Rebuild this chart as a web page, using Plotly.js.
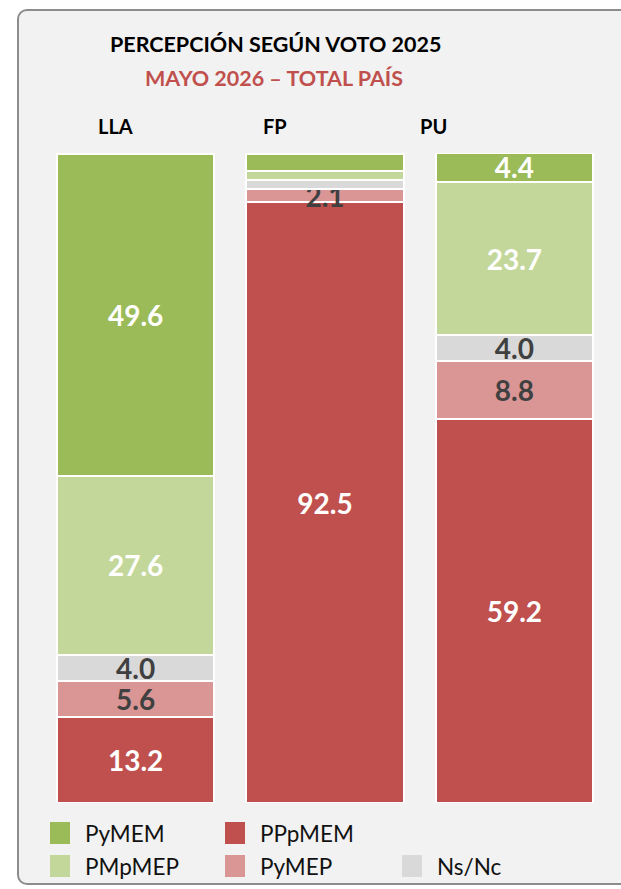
<!DOCTYPE html>
<html><head><meta charset="utf-8">
<script src="https://cdn.plot.ly/plotly-3.0.1.min.js"></script>
<style>
html,body{margin:0;padding:0;background:#ffffff;}
#frame{position:absolute;left:17px;top:9px;width:640px;height:876px;border:2px solid #8c8c8c;border-radius:10px;background:#f2f2f2;box-sizing:border-box;}
#chart{position:absolute;left:0;top:0;width:621px;height:889px;}
</style></head>
<body>
<div id="frame"></div>
<div id="chart"></div>
<script>
const categories = ['LLA', 'FP', 'PU'];
const seriesNames = ['PPpMEM', 'PyMEP', 'Ns/Nc', 'PMpMEP', 'PyMEM'];
const PPpMEM = [13.2, 92.5, 59.2];
const PyMEP  = [5.6, 2.1, 8.8];
const NsNc   = [4.0, 1.3, 4.0];
const PMpMEP = [27.6, 1.5, 23.7];
const PyMEM  = [49.6, 2.5, 4.4];
const seriesValues = [PPpMEM, PyMEP, NsNc, PMpMEP, PyMEM];
// labels that the reference leaves out (thin FP segments)
const hiddenLabels = {'FP': ['Ns/Nc', 'PMpMEP', 'PyMEM']};
const seriesColors = ['#c0504d', '#da9694', '#d9d9d9', '#c4d79b', '#9bbb59'];
const labelColors  = ['#ffffff', '#404040', '#404040', '#ffffff', '#ffffff'];
const titleText = 'PERCEPCIÓN SEGÚN VOTO 2025';
const subtitleText = 'MAYO 2026 – TOTAL PAÍS';

const W = 621, H = 889;
const M = {l: 41, r: 12, t: 153, b: 86};
const pw = W - M.l - M.r, ph = H - M.t - M.b;
const px2x = p => (p - M.l) / pw;
const px2y = p => (H - M.b - p) / ph;

const FONT = 'Lato, "Open Sans", sans-serif';

const traces = seriesNames.map((name, i) => ({
  type: 'bar',
  name: name,
  x: categories,
  y: seriesValues[i],
  text: seriesValues[i].map((v, j) => (hiddenLabels[categories[j]] || []).includes(name) ? '' : v.toFixed(1)),
  textposition: 'inside',
  insidetextanchor: 'middle',
  constraintext: 'none',
  textfont: {family: FONT, size: 28, color: labelColors[i], weight: 'bold'},
  marker: {color: seriesColors[i], line: {color: '#ffffff', width: 2}},
  hoverinfo: 'none',
  showlegend: false
}));

const annotations = [
  {text: '<b>' + titleText + '</b>', x: px2x(275), y: px2y(44), font: {family: FONT, size: 21.5, color: '#000000'}},
  {text: '<b>' + subtitleText + '</b>', x: px2x(274), y: px2y(78), font: {family: FONT, size: 21.5, color: '#c0504d'}}
];
const catLabelX = [115, 275, 433];
categories.forEach((c, i) => annotations.push({
  text: '<b>' + c + '</b>', x: px2x(catLabelX[i]), y: px2y(126), font: {family: FONT, size: 20, color: '#000000'}
}));
annotations.forEach(a => { a.xref = 'paper'; a.yref = 'paper'; a.showarrow = false; a.xanchor = 'center'; a.yanchor = 'middle'; });

// legend grid (column, row) for each series
const legendPos = {'PyMEM': [0, 0], 'PPpMEM': [1, 0], 'PMpMEP': [0, 1], 'PyMEP': [1, 1], 'Ns/Nc': [2, 1]};
const legColX = [50, 225, 402];
const legRowY = [833, 866];
const shapes = [];
seriesNames.forEach((name, i) => {
  const [c, r] = legendPos[name];
  const cx = legColX[c], cy = legRowY[r];
  shapes.push({type: 'rect', xref: 'paper', yref: 'paper', x0: px2x(cx), x1: px2x(cx + 20), y0: px2y(cy - 11), y1: px2y(cy + 11),
    fillcolor: seriesColors[i], line: {width: 0}});
  annotations.push({text: name, xref: 'paper', yref: 'paper', x: px2x(cx + 33), y: px2y(cy), xanchor: 'left', yanchor: 'middle',
    showarrow: false, font: {family: FONT, size: 22.5, color: '#111111'}});
});

const layout = {
  width: W, height: H,
  margin: M,
  barmode: 'stack',
  bargap: 0.17,
  paper_bgcolor: 'rgba(0,0,0,0)',
  plot_bgcolor: 'rgba(0,0,0,0)',
  uniformtext: {mode: 'show', minsize: 28},
  xaxis: {showticklabels: false, showgrid: false, zeroline: false, showline: false, ticks: ''},
  yaxis: {range: [0, 100.1], visible: false, showgrid: false, zeroline: false},
  annotations: annotations,
  shapes: shapes,
  showlegend: false
};

Plotly.newPlot('chart', traces, layout, {displayModeBar: false, staticPlot: true});
</script>
</body></html>
